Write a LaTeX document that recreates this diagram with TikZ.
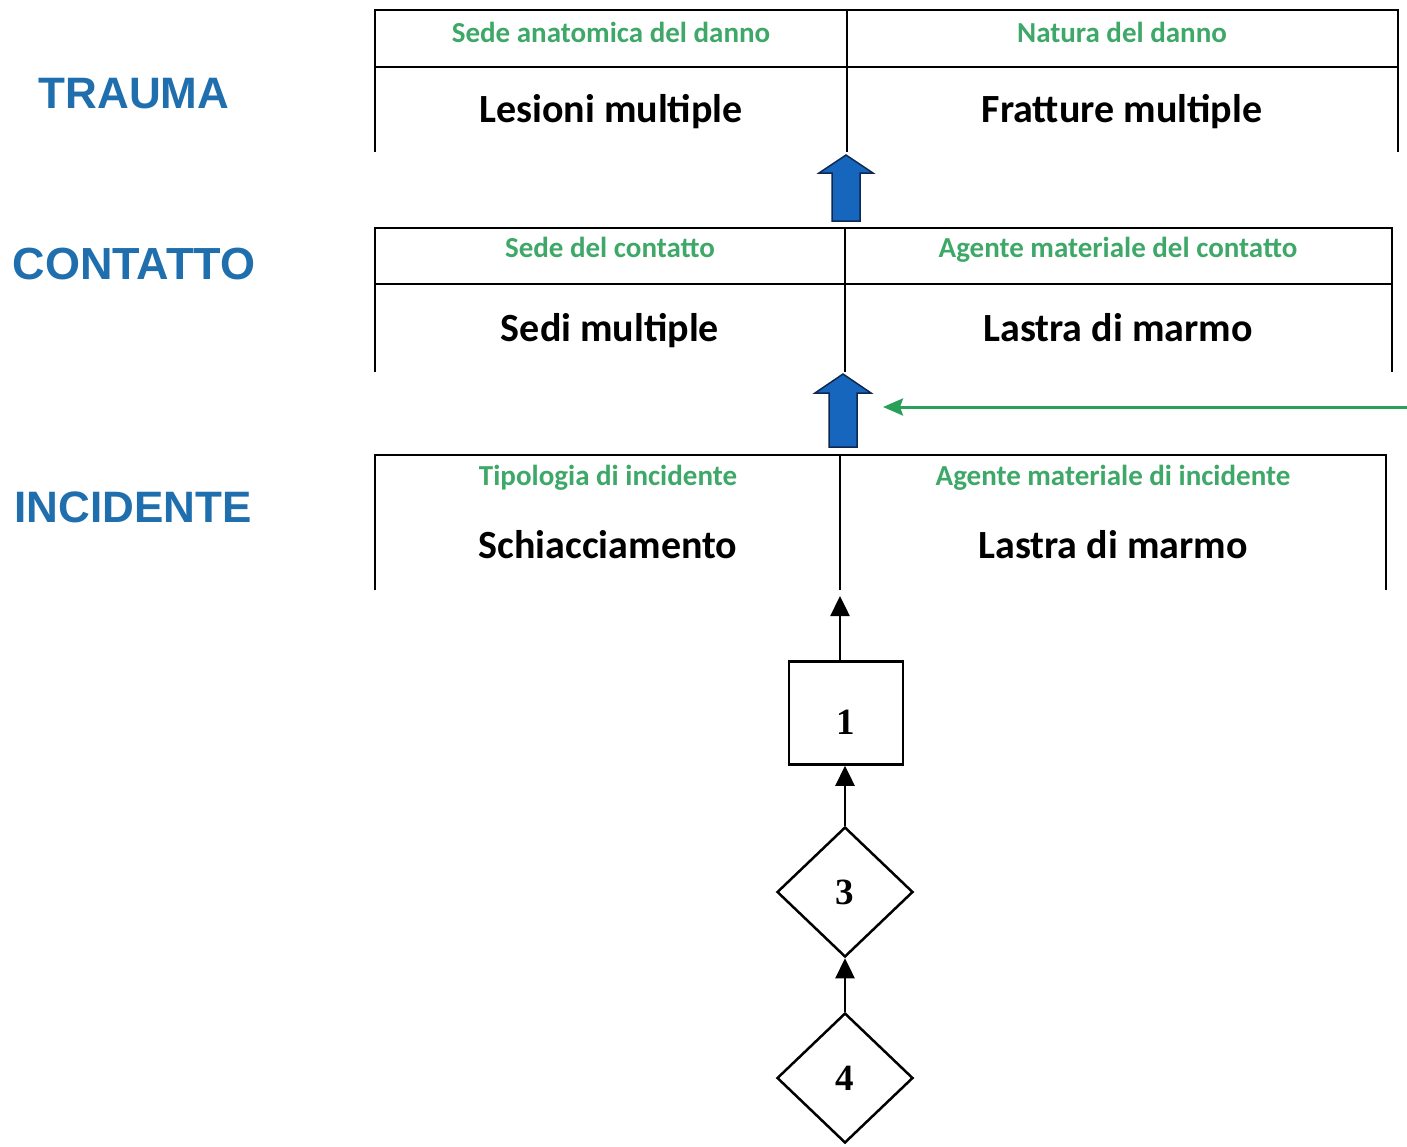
\documentclass[tikz,border=0pt]{standalone}
\usepackage{fontspec}
\setmainfont{Carlito}
\newfontfamily\arialfont{Liberation Sans}
\newfontfamily\timesfont{Liberation Serif}
\usetikzlibrary{arrows.meta,shapes.geometric}
\definecolor{stageblue}{RGB}{31,110,174}
\definecolor{headgreen}{RGB}{62,168,104}
\definecolor{feedgreen}{RGB}{40,160,90}
\definecolor{fillblue}{RGB}{22,102,190}
\definecolor{edgenavy}{RGB}{15,40,80}

\begin{document}
\begin{tikzpicture}[
    x=1pt, y=-1pt,
    stage/.style={
        anchor=base,
        inner sep=0,
        text=stageblue,
        font=\arialfont\bfseries\fontsize{44}{50}\selectfont
    },
    cellhead/.style={
        anchor=base,
        inner sep=0,
        text=headgreen,
        font=\bfseries\fontsize{29}{34}\selectfont
    },
    cellmain/.style={
        anchor=base,
        inner sep=0,
        font=\bfseries\fontsize{40}{46}\selectfont
    },
    tabline/.style={line width=2pt},
    fact/.style={
        rectangle,
        draw=black,
        line width=2.5pt,
        minimum width=114pt,
        minimum height=103pt,
        text height=43pt,
        text depth=0pt,
        font=\timesfont\bfseries\fontsize{37}{40}\selectfont
    },
    cond/.style={
        diamond,
        draw=black,
        line width=2.5pt,
        inner sep=0,
        minimum width=136pt,
        minimum height=130pt,
        font=\timesfont\bfseries\fontsize{37}{40}\selectfont
    },
    link/.style={line width=2.5pt, -{Triangle[length=20pt,width=19pt]}},
    feed/.style={draw=feedgreen, line width=3pt, -{Stealth[length=20pt,width=17pt,inset=3pt]}},
    bigarrow/.style={draw=edgenavy, line width=1.5pt, fill=fillblue, line join=miter}
  ]
  \useasboundingbox (0,0) rectangle (1407,1146);

  % levels on the left
  \node [stage] (trauma) at (134,108) {TRAUMA};
  \node [stage, font=\arialfont\bfseries\fontsize{45}{50}\selectfont] (contatto) at (134,279) {CONTATTO};
  \node [stage] (incidente) at (133,522) {INCIDENTE};

  % TRAUMA table
  \draw [tabline] (375,152) -- (375,10) -- (1398,10) -- (1398,152);
  \draw [tabline] (375,67) -- (1398,67);
  \draw [tabline] (847,10) -- (847,152);
  \node [cellhead] (tr-sede) at (611,42) {Sede anatomica del danno};
  \node [cellhead] (tr-natura) at (1122,42) {Natura del danno};
  \node [cellmain] (tr-lesioni) at (611,122) {Lesioni multiple};
  \node [cellmain] (tr-fratture) at (1122,122) {Fratture multiple};

  % CONTATTO table
  \draw [tabline] (375,372) -- (375,228) -- (1392,228) -- (1392,372);
  \draw [tabline] (375,284) -- (1392,284);
  \draw [tabline] (845,228) -- (845,372);
  \node [cellhead] (ct-sede) at (610,257) {Sede del contatto};
  \node [cellhead] (ct-agente) at (1118,257) {Agente materiale del contatto};
  \node [cellmain] (ct-sedi) at (610,341) {Sedi multiple};
  \node [cellmain] (ct-lastra) at (1118,341) {Lastra di marmo};

  % INCIDENTE table
  \draw [tabline] (375,590) -- (375,455) -- (1386,455) -- (1386,590);
  \draw [tabline] (840,455) -- (840,590);
  \node [cellhead] (in-tipo) at (608,485) {Tipologia di incidente};
  \node [cellhead] (in-agente) at (1113,485) {Agente materiale di incidente};
  \node [cellmain] (in-schiacc) at (608,558) {Schiacciamento};
  \node [cellmain] (in-lastra) at (1113,558) {Lastra di marmo};

  % block arrows between the tables
  \coordinate (ct-top) at (846,221);
  \coordinate (in-top) at (843,447);
  \draw [bigarrow] (ct-top) ++(-14,0) -- ++(0,-48) -- ++(-13,0) -- ++(27,-18)
      -- ++(27,18) -- ++(-13,0) -- ++(0,48) -- cycle;
  \draw [bigarrow] (in-top) ++(-14,0) -- ++(0,-54) -- ++(-14,0) -- ++(28,-19)
      -- ++(28,19) -- ++(-14,0) -- ++(0,54) -- cycle;

  \coordinate (feed-start) at (1407,407);
  \coordinate (feed-end) at (883,407);
  \draw [feed] (feed-start) -- (feed-end);

  % chain below
  \node [fact] (act1) at (846,713) {1};
  \node [cond] (cond3) at (845,892) {3};
  \node [cond] (cond4) at (845,1078) {4};
  \coordinate (in-foot) at (840,596);

  \draw [link] (act1.north -| in-foot) -- (in-foot);
  \draw [link] (cond3.north) -- (cond3.north |- act1.south);
  \draw [link] (cond4.north) -- (cond3.south);

\end{tikzpicture}
\end{document}
